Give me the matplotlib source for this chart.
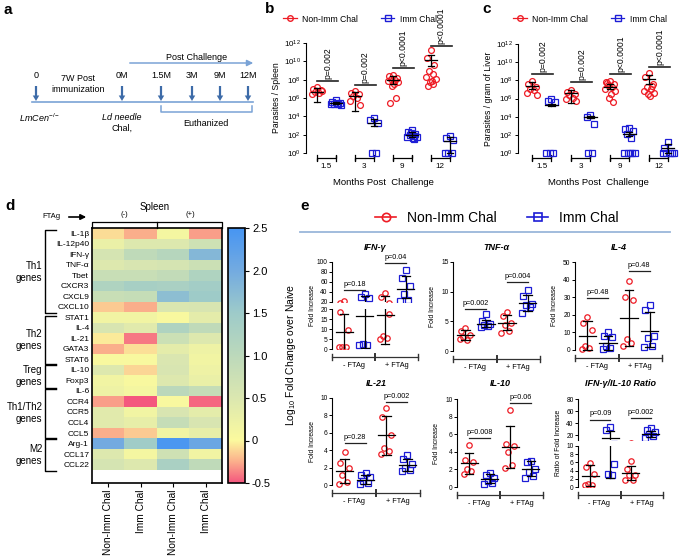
import numpy as np
import matplotlib
matplotlib.use('Agg')
import matplotlib.pyplot as plt
from matplotlib.colors import LinearSegmentedColormap
from matplotlib.lines import Line2D
from matplotlib.transforms import blended_transform_factory

plt.rcParams['font.family'] = ['Liberation Sans', 'DejaVu Sans']
plt.rcParams['mathtext.fontset'] = 'custom'
plt.rcParams['mathtext.rm'] = 'Liberation Sans'
plt.rcParams['mathtext.it'] = 'Liberation Sans:italic'
plt.rcParams['axes.linewidth'] = 0.8

W, H = 682, 558
RED = '#ee1c25'
BLUE = '#1d1dd6'
ARROW_C = '#3d6ba8'
LIGHT_C = '#7aa3d6'

# ---------------- panel b / c : log10 parasite burden ----------------
months = ['1.5', '3', '9', '12']

spleen_non = [[7.2, 7.0, 6.9, 6.7, 6.5, 6.4, 6.8],
              [6.8, 6.6, 6.4, 6.2, 6.0, 5.7, 5.2],
              [8.5, 8.4, 8.2, 8.1, 8.0, 7.9, 7.7, 7.5, 7.3, 6.0, 5.5],
              [11.2, 10.4, 9.6, 9.0, 8.6, 8.3, 8.1, 7.9, 7.7, 7.5, 7.3]]
spleen_imm = [[5.8, 5.6, 5.5, 5.4, 5.4, 5.3, 5.2, 5.5],
              [3.8, 3.6, 3.3, 0.0, 0.0],
              [2.5, 2.3, 2.1, 2.0, 1.9, 1.8, 1.7, 1.6, 2.2, 1.5],
              [1.9, 1.6, 1.4, 0.0, 0.0, 0.0]]
spleen_mean_non = [6.7, 6.2, 8.0, 10.1]
spleen_lo_non = [5.6, 4.6, 7.5, 9.5]
spleen_hi_non = [7.1, 6.7, 8.4, 10.7]
spleen_mean_imm = [5.45, 3.3, 2.0, 1.3]
spleen_lo_imm = [5.3, 3.0, 1.7, 0.0]
spleen_hi_imm = [5.6, 3.7, 2.3, 1.8]
spleen_pbar = [7.85, 7.4, 9.3, 11.7]
spleen_ptext = ['p=0.002', 'p=0.002', 'p<0.0001', 'p<0.0001']

liver_non = [[7.9, 7.6, 7.3, 7.1, 6.9, 6.6, 6.4],
             [6.9, 6.7, 6.5, 6.4, 6.1, 5.9, 5.7],
             [7.9, 7.8, 7.6, 7.5, 7.3, 7.1, 6.8, 6.5, 6.1, 5.6, 7.7],
             [8.8, 8.4, 7.6, 7.3, 7.1, 6.8, 6.6, 6.3, 6.5, 7.4]]
liver_imm = [[5.9, 5.7, 5.6, 0.0, 0.0, 0.0],
             [4.2, 4.0, 3.2, 0.0, 0.0],
             [2.8, 2.6, 2.4, 2.1, 1.7, 0.0, 0.0, 0.0, 0.0, 0.0],
             [1.2, 0.5, 0.0, 0.0, 0.0, 0.0, 0.0]]
liver_mean_non = [7.4, 6.6, 7.3, 8.1]
liver_lo_non = [7.0, 5.5, 7.0, 7.6]
liver_hi_non = [7.8, 6.9, 7.6, 8.6]
liver_mean_imm = [5.3, 4.0, 2.1, 0.5]
liver_lo_imm = [5.2, 3.8, 1.9, 0.0]
liver_hi_imm = [5.4, 4.1, 2.3, 1.0]
liver_pbar = [8.7, 7.8, 8.7, 9.5]
liver_ptext = ['p=0.002', 'p=0.002', 'p<0.0001', 'p<0.0001']

# ---------------- panel d : heatmap ----------------
genes = ['IL-1β', 'IL-12p40', 'IFN-γ', 'TNF-α', 'Tbet', 'CXCR3', 'CXCL9',
         'CXCL10', 'STAT1', 'IL-4', 'IL-21', 'GATA3', 'STAT6', 'IL-10',
         'Foxp3', 'IL-6', 'CCR4', 'CCR5', 'CCL4', 'CCL5', 'Arg-1', 'CCL17', 'CCL22']
heat_cols = ['Non-Imm Chal', 'Imm Chal', 'Non-Imm Chal', 'Imm Chal']
heat_nonimm_neg = [-0.1, 0.25, 0.6, 0.45, 0.8, 1.2, 0.8, -0.15, 0.15, 0.55, -0.05, -0.25,
                   0.05, 0.45, 0.15, 0.2, -0.3, 0.4, 0.4, -0.25, 2.0, 0.45, 0.6]
heat_imm_neg = [-0.25, 0.45, 0.95, 0.55, 0.8, 1.35, 0.85, -0.25, 0.15, 0.4, -0.4, -0.08,
                0.05, -0.12, 0.05, 0.1, -0.5, 0.15, 0.3, -0.15, 1.45, 0.1, 0.45]
heat_nonimm_pos = [0.1, 0.45, 1.1, 0.6, 0.9, 1.3, 1.7, 0.5, 0.05, 1.2, 0.75, 0.35,
                   0.5, 0.55, 0.45, 1.0, 0.05, 0.55, 0.85, 0.15, 2.45, 0.7, 1.3]
heat_imm_pos = [-0.3, 0.7, 1.8, 0.75, 1.2, 1.4, 1.5, 0.55, 0.35, 0.95, 0.45, 0.2,
                0.15, 0.2, 0.25, 0.85, -0.45, 0.35, 0.55, 0.3, 2.1, 0.15, 0.95]
gene_groups = ['Th1\ngenes', 'Th2\ngenes', 'Treg\ngenes', 'Th1/Th2\ngenes', 'M2\ngenes']
group_spans = [(-0.3, 7.6), (7.9, 12.4), (12.5, 14.7), (14.8, 19.45), (19.6, 22.6)]

# ---------------- panel e : fold increase (order: -FTAg non, -FTAg imm, +FTAg non, +FTAg imm)
ifng_vals = [[22, 18.5, 9.5, 1.0, 0.8, 1.2], [37, 30, 29, 2.5, 2.0, 2.2],
             [39, 30, 17.5, 6.5, 5.5, 5.0], [85, 68, 52, 37, 25, 23]]
ifng_mean = [8.5, 16.5, 17.2, 47]
ifng_lo = [0.0, 0.5, 2.5, 28]
ifng_hi = [17.5, 32, 32, 72]
ifng_p = [44, 98]
ifng_ptext = ['p=0.18', 'p=0.04']

tnf_vals = [[3.8, 3.3, 2.7, 2.3, 1.8, 2.0], [6.2, 5.0, 4.6, 4.4, 4.2, 4.0],
            [6.5, 5.9, 4.7, 4.4, 3.4, 3.0], [10.3, 9.2, 8.0, 7.7, 7.4, 6.4]]
tnf_mean = [2.7, 4.6, 4.8, 8.1]
tnf_lo = [1.9, 4.0, 3.5, 6.8]
tnf_hi = [3.5, 5.3, 6.0, 9.5]
tnf_p = [7.1, 11.6]
tnf_ptext = ['p=0.002', 'p=0.004']

il4_vals = [[19, 15.5, 11.5, 2.5, 1.0, 0.5], [10, 8, 7.5, 2.0, 1.0, 0.5],
            [39, 30, 28.5, 6, 4, 2], [25.5, 22.5, 8, 7, 2, 1.5]]
il4_mean = [8, 3.8, 18, 11]
il4_lo = [0, 0, 2, 1.5]
il4_hi = [16.5, 8, 34, 21.5]
il4_p = [29.5, 45]
il4_ptext = ['p=0.48', 'p=0.48']

il21_vals = [[3.8, 2.5, 1.9, 1.2, 0.3, 0.1], [1.4, 1.2, 0.9, 0.5, 0.2, 0.1],
             [8.8, 7.8, 5.7, 4.2, 3.9, 3.6], [3.4, 3.0, 2.4, 2.0, 1.7, 1.6]]
il21_mean = [1.6, 0.6, 5.7, 2.3]
il21_lo = [0.2, 0.1, 3.5, 1.6]
il21_hi = [3.0, 1.1, 7.9, 3.0]
il21_p = [4.8, 9.5]
il21_ptext = ['p=0.28', 'p=0.002']

il10_vals = [[4.8, 3.1, 2.8, 2.1, 1.8, 1.5], [1.6, 1.4, 1.0, 0.7, 0.5, 0.3],
             [8.8, 4.9, 4.7, 4.0, 2.5, 2.2], [3.0, 2.8, 2.1, 1.7, 1.2, 1.0]]
il10_mean = [2.7, 0.9, 4.5, 2.0]
il10_lo = [1.5, 0.4, 2.2, 1.2]
il10_hi = [3.9, 1.5, 6.9, 2.9]
il10_p = [5.6, 9.5]
il10_ptext = ['p=0.008', 'p=0.06']

ratio_vals = [[5.9, 5.0, 3.2, 0.8, 0.6, 0.4], [34, 28, 5.7, 3.2, 3.0],
              [6.3, 4.4, 3.0, 2.9, 1.7, 1.6], [32, 29, 25, 22, 18, 15]]
ratio_mean = [2.7, 14.8, 3.3, 22]
ratio_lo = [0.2, 2.2, 1.6, 17]
ratio_hi = [5.3, 27, 5.2, 27]
ratio_p = [46, 48]
ratio_ptext = ['p=0.09', 'p=0.002']

OFFS = [0.0, -0.22, 0.22, -0.11, 0.11, -0.3, 0.3, 0.05, -0.05, 0.16, -0.16, 0.26]

fig = plt.figure(figsize=(W / 100, H / 100), dpi=100)

ov = fig.add_axes([0, 0, 1, 1])
ov.set_xlim(0, W)
ov.set_ylim(H, 0)
ov.axis('off')
ov.set_zorder(10)


def px_axes(l, t, r, b):
    ax = fig.add_axes([l / W, 1 - b / H, (r - l) / W, (b - t) / H])
    ax.patch.set_alpha(0)
    return ax


def style(ax, size, tl=2.5):
    for s in ['top', 'right', 'bottom']:
        ax.spines[s].set_visible(False)
    ax.set_xticks([])
    ax.tick_params(axis='y', labelsize=size, length=tl, width=0.7, pad=1.2)


def dots(ax, x, vals, color, marker, ms, spread, clip=False):
    off = np.array(OFFS[:len(vals)]) * spread
    ax.plot(x + off, vals, ls='none', marker=marker, ms=ms, mfc='none', mec=color,
            mew=0.9, clip_on=clip, zorder=3)


def mean_sd(ax, x, m, lo, hi, half, cap, clip=False):
    kw = dict(color='black', lw=0.9, clip_on=clip, zorder=4)
    ax.plot([x - half, x + half], [m, m], **kw)
    ax.plot([x, x], [lo, hi], **kw)
    ax.plot([x - cap, x + cap], [hi, hi], **kw)
    ax.plot([x - cap, x + cap], [lo, lo], **kw)


def pbar(ax, x0, x1, y, text, size, rotate=False, lw=0.9):
    ax.plot([x0, x1], [y, y], color='#222222', lw=lw, clip_on=False, zorder=4)
    ax.annotate(text, xy=((x0 + x1) / 2, y), xytext=(0, 1.5), textcoords='offset points',
                ha='center', va='bottom', rotation=90 if rotate else 0, fontsize=size,
                annotation_clip=False)


# ---------------- panel a : timeline ----------------
ov.text(4, 10, 'a', fontsize=11, fontweight='bold', ha='left', va='center')
ov.plot([32, 253], [102, 102], color=LIGHT_C, lw=1.2)
for x, lab in zip([36, 122, 161, 192, 220, 248], ['0', '0M', '1.5M', '3M', '9M', '12M']):
    ov.text(x, 76, lab, fontsize=6.5, ha='center', va='center')
    ov.arrow(x, 86, 0, 15, width=2.2, head_width=6.5, head_length=5.5,
             length_includes_head=True, color=ARROW_C, lw=0)
ov.text(78, 84, '7W Post\nimmunization', fontsize=6.5, ha='center', va='center', linespacing=1.2)
ov.annotate('', xy=(256, 63), xytext=(127, 63),
            arrowprops=dict(arrowstyle='-|>', color=LIGHT_C, lw=1.1, mutation_scale=9))
ov.text(197, 57, 'Post Challenge', fontsize=6.5, ha='center', va='center')
ov.plot([161, 161, 252, 252], [106, 112, 112, 106], color=LIGHT_C, lw=1.1)
ov.text(206, 123, 'Euthanized', fontsize=6.5, ha='center', va='center')
ov.text(40, 118, r'$\it{LmCen}^{-/-}$', fontsize=6.5, ha='center', va='center')
ov.text(122, 117, 'Ld needle', fontsize=6.5, style='italic', ha='center', va='center')
ov.text(122, 128, 'Chal,', fontsize=6.5, ha='center', va='center')


# ---------------- panels b, c ----------------
def parasite_panel(box, non, imm, m_non, lo_non, hi_non, m_imm, lo_imm, hi_imm,
                   pys, ptexts, ylabel, xlim, leg_x, letter_x):
    ax = px_axes(*box)
    for i in range(4):
        xr, xb = 2 * i, 2 * i + 1
        dots(ax, xr, non[i], RED, 'o', 4.2, 0.9)
        dots(ax, xb, imm[i], BLUE, 's', 4.2, 0.9)
        mean_sd(ax, xr, m_non[i], lo_non[i], hi_non[i], 0.32, 0.16)
        mean_sd(ax, xb, m_imm[i], lo_imm[i], hi_imm[i], 0.32, 0.16)
        pbar(ax, xr, xb + 0.1, pys[i], ptexts[i], 6.2, rotate=True, lw=1.2)
    ax.set_ylim(0, 12)
    ax.set_xlim(*xlim)
    ax.set_yticks(range(0, 13, 2))
    ax.set_yticklabels([r'$10^{%d}$' % k for k in range(0, 13, 2)])
    style(ax, 5.8)
    ax.set_ylabel(ylabel, fontsize=6.2, labelpad=2)
    tr = blended_transform_factory(ax.transData, ax.transAxes)
    for i, lab in enumerate(months):
        ax.plot([2 * i, 2 * i, 2 * i, 2 * i + 1, 2 * i + 1, 2 * i + 1],
                [-0.02, -0.075, -0.047, -0.047, -0.02, -0.075],
                color='black', lw=0.9, transform=tr, clip_on=False)
        ax.text(2 * i + 0.5, -0.09, lab, transform=tr, fontsize=5.8, ha='center', va='top')
    ax.text(0.5, -0.23, 'Months Post  Challenge', transform=ax.transAxes,
            fontsize=6.8, ha='center', va='top')
    handles = [Line2D([0], [0], color=RED, marker='o', mfc='none', lw=0.9, ms=4),
               Line2D([0], [0], color=BLUE, marker='s', mfc='none', lw=0.9, ms=4)]
    fig.legend(handles, ['Non-Imm Chal', 'Imm Chal'], ncol=2, frameon=False, fontsize=6.2,
               loc='center', bbox_to_anchor=(leg_x / W, 1 - 19 / H), handlelength=1.6,
               columnspacing=2.6, handletextpad=0.6)
    ov.text(letter_x, 9, 'b' if letter_x < 400 else 'c', fontsize=11, fontweight='bold',
            ha='left', va='center')


parasite_panel((306, 43, 461, 153), spleen_non, spleen_imm, spleen_mean_non, spleen_lo_non,
               spleen_hi_non, spleen_mean_imm, spleen_lo_imm, spleen_hi_imm, spleen_pbar,
               spleen_ptext, 'Parasites / Spleen', (-0.58, 7.6), 360, 265)
parasite_panel((518, 44, 678, 153), liver_non, liver_imm, liver_mean_non, liver_lo_non,
               liver_hi_non, liver_mean_imm, liver_lo_imm, liver_hi_imm, liver_pbar,
               liver_ptext, 'Parasites / gram of Liver', (-0.72, 7.5), 590, 482)

# ---------------- panel d : heatmap ----------------
ov.text(5, 206, 'd', fontsize=11, fontweight='bold', ha='left', va='center')
cmap = LinearSegmentedColormap.from_list('hm', [
    (0.0, '#f4577e'), (0.0833, '#fbb08c'), (0.1667, '#fbfa9e'), (0.333, '#dbe7b0'),
    (0.5, '#bcd9bb'), (0.667, '#9ecbc9'), (0.833, '#74abe0'), (1.0, '#4795f2')])
heat = np.column_stack([heat_nonimm_neg, heat_imm_neg, heat_nonimm_pos, heat_imm_pos])
axh = px_axes(92, 228, 222, 483)
im = axh.imshow(heat, cmap=cmap, vmin=-0.5, vmax=2.5, aspect='auto', interpolation='nearest')
axh.set_yticks(range(len(genes)))
axh.set_yticklabels(genes, fontsize=6)
axh.set_xticks(range(4))
axh.set_xticklabels(heat_cols, rotation=90, fontsize=7.3)
axh.tick_params(axis='y', length=0, pad=2)
axh.tick_params(axis='x', length=3, width=0.8, pad=2)
for s in axh.spines.values():
    s.set_linewidth(1.2)
tr = blended_transform_factory(axh.transAxes, axh.transData)
for lab, (y0, y1) in zip(gene_groups, group_spans):
    axh.plot([-0.28, -0.36, -0.36, -0.28], [y0, y0, y1, y1], color='black', lw=1.0,
             transform=tr, clip_on=False)
    axh.text(-0.38, (y0 + y1) / 2, lab, transform=tr, fontsize=7, ha='right', va='center',
             linespacing=1.25)
# top FTAg brackets
ov.plot([92, 92, 222, 222], [228, 222, 222, 228], color='black', lw=0.9)
ov.plot([157, 157], [222, 228], color='black', lw=0.9)
ov.text(124, 215, '(-)', fontsize=5.5, ha='center', va='center')
ov.text(190, 215, '(+)', fontsize=5.5, ha='center', va='center')
ov.text(155, 207, 'Spleen', fontsize=7, ha='center', va='center')
ov.text(42, 217, 'FTAg', fontsize=5.5, ha='left', va='center')
ov.annotate('', xy=(89, 217), xytext=(66, 217),
            arrowprops=dict(arrowstyle='-|>', color='black', lw=1.2, mutation_scale=8))
cax = px_axes(228, 228, 245, 483)
cb = fig.colorbar(im, cax=cax, ticks=[-0.5, 0, 0.5, 1.0, 1.5, 2.0, 2.5])
cb.ax.set_yticklabels(['-0.5', '0', '0.5', '1.0', '1.5', '2.0', '2.5'])
cb.ax.tick_params(labelsize=8, length=3, width=0.8, pad=2)
cb.outline.set_linewidth(1.2)
ov.text(291, 355, r'Log$_{10}$ Fold Change over Naive', fontsize=7.5, rotation=90,
        ha='center', va='center')

# ---------------- panel e ----------------
ov.text(300, 206, 'e', fontsize=11, fontweight='bold', ha='left', va='center')
handles = [Line2D([0], [0], color=RED, marker='o', mfc='none', lw=1.2, ms=6, mew=1.2),
           Line2D([0], [0], color=BLUE, marker='s', mfc='none', lw=1.2, ms=6, mew=1.2)]
fig.legend(handles, ['Non-Imm Chal', 'Imm Chal'], ncol=2, frameon=False, fontsize=10,
           loc='center', bbox_to_anchor=(497 / W, 1 - 218 / H), handlelength=1.5,
           columnspacing=2.2, handletextpad=0.8)
ov.plot([300, 670], [232, 232], color='#9ab6da', lw=1.3)

colors = [RED, BLUE, RED, BLUE]
markers = ['o', 's', 'o', 's']


def fold_panel(boxes, ylims, ytick_sets, vals, means, los, his, pys, ptexts, title, ylabel):
    broken = len(boxes) > 1
    axes = [px_axes(*b) for b in boxes]
    for ax, yl, yt in zip(axes, ylims, ytick_sets):
        for i in range(4):
            dots(ax, i, vals[i], colors[i], markers[i], 3.9, 0.9, clip=broken)
            mean_sd(ax, i, means[i], los[i], his[i], 0.42, 0.2, clip=broken)
        ax.set_xlim(-0.6, 3.6)
        ax.set_ylim(*yl)
        ax.set_yticks(yt)
        style(ax, 4.8, tl=2)
    for k in range(2):
        pbar(axes[0], 2 * k, 2 * k + 1, pys[k], ptexts[k], 5.2)
    l, t = boxes[0][0], boxes[0][1]
    r, b = boxes[-1][2], boxes[-1][3]
    yb = b + 8
    ov.plot([l, r], [yb, yb], color='#333333', lw=0.9)
    for xx in (l, (l + r) / 2, r):
        ov.plot([xx, xx], [yb - 3, yb + 3], color='#333333', lw=1.0 if xx != (l + r) / 2 else 1.4)
    ov.text(l + (r - l) / 4, yb + 5, '- FTAg', fontsize=5.3, ha='center', va='top')
    ov.text(l + 3 * (r - l) / 4, yb + 5, '+ FTAg', fontsize=5.3, ha='center', va='top')
    ov.text((l + r) / 2, t - 15, title, fontsize=6.5, fontweight='bold', style='italic',
            ha='center', va='center')
    ov.text(l - 20, (t + b) / 2, ylabel, fontsize=4.9, rotation=90, ha='center', va='center')


fold_panel([(332, 262, 418, 302), (332, 309, 418, 349)], [(20, 100), (0, 20)],
           [range(20, 101, 20), range(0, 21, 5)], ifng_vals, ifng_mean, ifng_lo, ifng_hi,
           ifng_p, ifng_ptext, 'IFN-γ', 'Fold Increase')
fold_panel([(453, 262, 540, 351)], [(0, 15)], [range(0, 16, 5)], tnf_vals, tnf_mean,
           tnf_lo, tnf_hi, tnf_p, tnf_ptext, 'TNF-α', 'Fold Increase')
fold_panel([(575, 262, 662, 350)], [(0, 50)], [range(0, 51, 10)], il4_vals, il4_mean,
           il4_lo, il4_hi, il4_p, il4_ptext, 'IL-4', 'Fold Increase')
fold_panel([(332, 398, 420, 485)], [(0, 10)], [range(0, 11, 2)], il21_vals, il21_mean,
           il21_lo, il21_hi, il21_p, il21_ptext, 'IL-21', 'Fold Increase')
fold_panel([(457, 399, 543, 487)], [(0, 10)], [range(0, 11, 2)], il10_vals, il10_mean,
           il10_lo, il10_hi, il10_p, il10_ptext, 'IL-10', 'Fold Increase')
fold_panel([(578, 399, 663, 440), (578, 446, 663, 487)], [(12, 80), (0, 10)],
           [range(20, 81, 20), range(0, 11, 2)], ratio_vals, ratio_mean, ratio_lo, ratio_hi,
           ratio_p, ratio_ptext, 'IFN-γ/IL-10 Ratio', 'Ratio of Fold Increase')

fig.savefig('out.png', dpi=100)
